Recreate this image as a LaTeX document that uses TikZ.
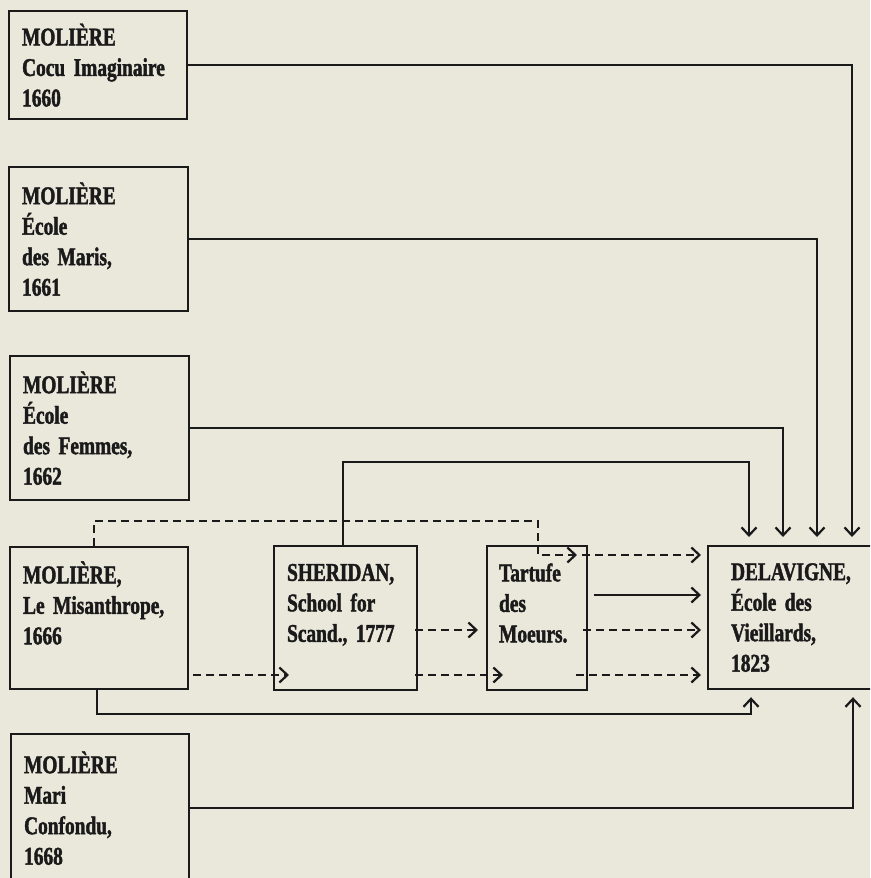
\documentclass[tikz,border=0pt]{standalone}
\usepackage{fontspec}
\setmainfont{Liberation Serif}[FakeStretch=0.76, BoldFeatures={FakeBold=1.6}]
\usetikzlibrary{arrows.meta, calc}
\definecolor{paper}{HTML}{EAE7DB}
\definecolor{inkdark}{HTML}{1A1A1A}
\newcommand{\playbox}[6][]{%
  \node[draw=inkdark, line width=2.2pt, anchor=north west, inner xsep=13pt,
        inner ysep=0pt, text width=#4, minimum height=#5, align=left,
        text=inkdark, #1] (#2) at (#3) {#6};}

\begin{document}
\begin{tikzpicture}[x=1pt, y=-1pt,
    font=\fontsize{25.5}{30.5}\selectfont\bfseries,
    link/.style={draw=inkdark, line width=2.2pt, -{Straight Barb[length=8pt, width=15pt]}},
    dlink/.style={link, dash pattern=on 8pt off 5pt}]
  \useasboundingbox (0,0) rectangle (870,878);
  \fill[paper] (0,0) rectangle (870,878);
  \clip (0,0) rectangle (870,878);

  \playbox{b1}{8,10}{152pt}{108pt}{MOLIÈRE\\Cocu Imaginaire\\1660}
  \playbox{b2}{8,166}{153pt}{144pt}{MOLIÈRE\\École\\des Maris,\\1661}
  \playbox{b3}{9,355}{153pt}{144pt}{MOLIÈRE\\École\\des Femmes,\\1662}
  \playbox{b4}{9,546}{152pt}{142pt}{MOLIÈRE,\\Le Misanthrope,\\1666\\ \mbox{}}
  \playbox{b5}{10,733}{152pt}{148pt}{MOLIÈRE\\Mari\\Confondu,\\1668}
  \playbox{sher}{273,545}{117pt}{144pt}{SHERIDAN,\\School for\\Scand., 1777\\ \mbox{}}
  \playbox[inner xsep=12pt]{tart}{486,545}{76pt}{144pt}{Tartufe\\des\\Moeurs.\\ \mbox{}}
  \playbox[inner xsep=23pt]{delav}{707,545}{144pt}{143pt}{DELAVIGNE,\\École des\\Vieillards,\\1823}

  \draw[link, shorten >=8pt] (b1.east) -| ($(delav.north west)+(145,0)$);
  \draw[link, shorten >=8pt] (b2.east) -| ($(delav.north west)+(110,0)$);
  \draw[link, shorten >=8pt] (b3.east) -| ($(delav.north west)+(76,0)$);
  \draw[link, shorten >=8pt] ($(sher.north west)+(70,0)$) -- ++(0,-83)
    -| ($(delav.north west)+(42,0)$);

  \draw[dlink] ($(b4.north west)+(85,0)$) -- ++(0,-25)
    -| ($(tart.north west)+(52,10)$) -- ++(39,0) coordinate (tmid);
  \draw[dlink, shorten <=5pt, shorten >=6pt] (tmid) -- (delav.west |- tmid);
  \draw[link, shorten >=6pt] ($(tart.north east)+(6,50)$) coordinate (tsolid)
    -- (delav.west |- tsolid);
  \draw[dlink, shorten >=8pt] ($(sher.north east)+(-3,85)$) coordinate (smid)
    -- (tart.west |- smid);
  \draw[dlink, shorten >=6pt] ($(tart.north east)+(-5,85)$) -- (delav.west |- smid);

  \draw[dlink] ($(b4.north east)+(4,129)$) coordinate (mlow)
    -- ($(sher.north west |- mlow)+(16,0)$);
  \draw[dlink] ($(sher.north east |- mlow)+(-3,0)$)
    -- ($(tart.north west |- mlow)+(17,0)$);
  \draw[dlink, shorten >=6pt] ($(tart.north east |- mlow)+(-12,0)$)
    -- (delav.west |- mlow);

  \draw[link, shorten >=7pt] ($(b4.south west)+(88,0)$) -- ++(0,24)
    -| ($(delav.south west)+(44,0)$);
  \draw[link, shorten >=7pt] (b5.east) -| ($(delav.south west)+(146,0)$);
\end{tikzpicture}
\end{document}
